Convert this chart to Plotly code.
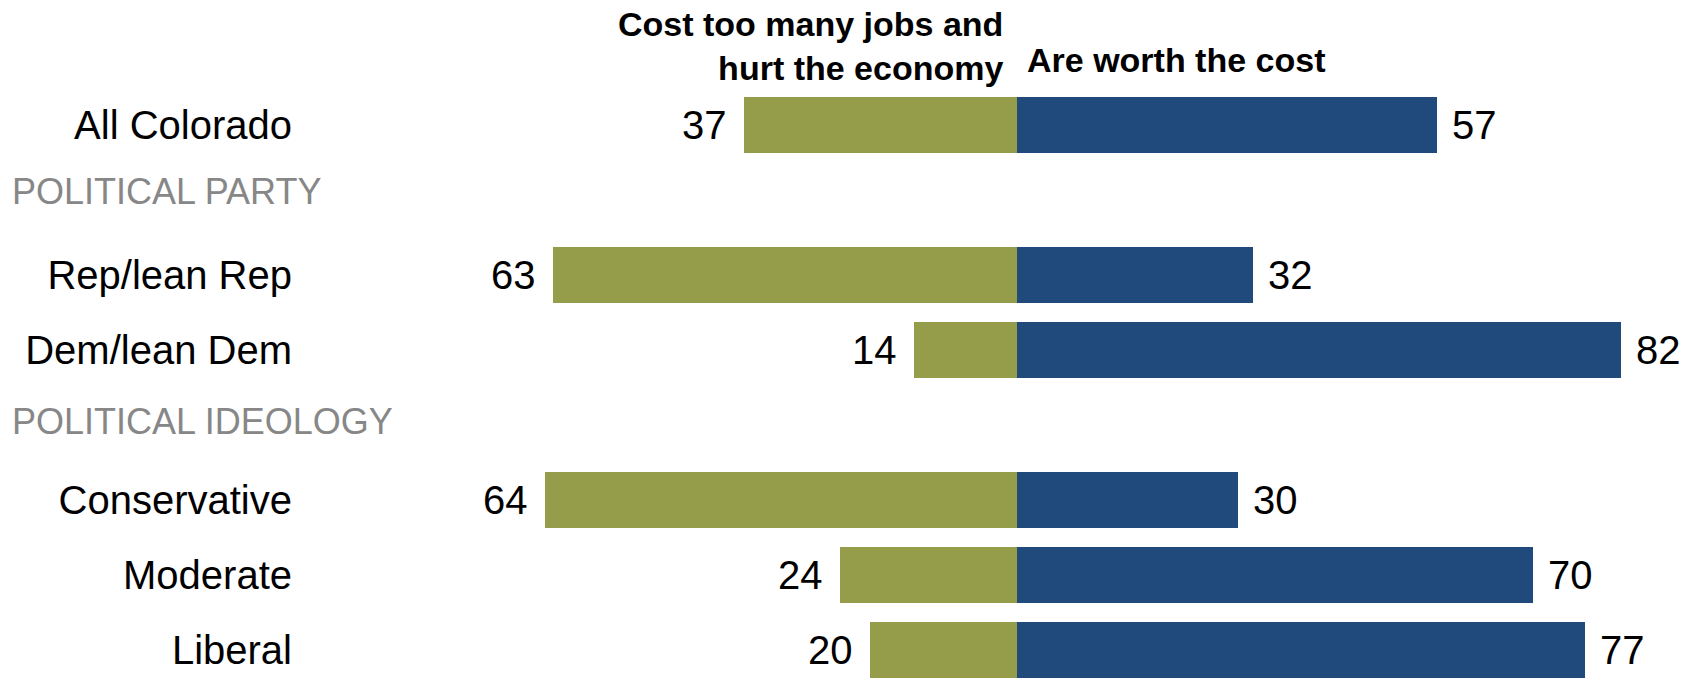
import plotly.graph_objects as go

# Survey results: share saying stricter environmental rules...
categories = ["All Colorado", "Rep/lean Rep", "Dem/lean Dem",
              "Conservative", "Moderate", "Liberal"]
cost_jobs = [37, 63, 14, 64, 24, 20]      # "Cost too many jobs and hurt the economy"
worth_cost = [57, 32, 82, 30, 70, 77]     # "Are worth the cost"
section_labels = ["POLITICAL PARTY", "POLITICAL IDEOLOGY"]

GREEN = "#959d4b"
BLUE = "#214a7c"
FONT = "Liberation Sans, Arial, sans-serif"

# Row layout: header rows sit between groups
rows = [0, 2, 3, 5, 6, 7]
section_rows = [0.88, 3.96]

fig = go.Figure()
fig.add_trace(go.Bar(
    y=rows, x=[-v for v in cost_jobs], orientation="h",
    marker=dict(color=GREEN, line=dict(width=0)), width=0.75,
    hoverinfo="skip", showlegend=False,
))
fig.add_trace(go.Bar(
    y=rows, x=worth_cost, orientation="h",
    marker=dict(color=BLUE, line=dict(width=0)), width=0.75,
    hoverinfo="skip", showlegend=False,
))

annotations = []
# value labels beside each bar end
for r, g, b in zip(rows, cost_jobs, worth_cost):
    annotations.append(dict(
        x=-g, y=r, xref="x", yref="y", text=str(g), showarrow=False,
        xanchor="right", yanchor="middle", xshift=-15,
        font=dict(family=FONT, size=40, color="#000000"),
    ))
    annotations.append(dict(
        x=b, y=r, xref="x", yref="y", text=str(b), showarrow=False,
        xanchor="left", yanchor="middle", xshift=13,
        font=dict(family=FONT, size=40, color="#000000"),
    ))

# group headers
for label, r in zip(section_labels, section_rows):
    annotations.append(dict(
        x=-0.2071, y=r, xref="paper", yref="y", text=label, showarrow=False,
        xanchor="left", yanchor="middle",
        font=dict(family=FONT, size=36, color="#878787"),
    ))

# column headers
annotations.append(dict(
    x=0, y=-1.06, xref="x", yref="y",
    text="Cost too many jobs and<br>hurt the economy", showarrow=False,
    xanchor="right", yanchor="middle", align="right", xshift=-12,
    font=dict(family=FONT, size=34, color="#000000", weight="bold"),
))
annotations.append(dict(
    x=0, y=-0.87, xref="x", yref="y",
    text="Are worth the cost", showarrow=False,
    xanchor="left", yanchor="middle", xshift=8,
    font=dict(family=FONT, size=34, color="#000000", weight="bold"),
))

fig.update_layout(
    width=1700, height=679,
    margin=dict(l=300, r=0, t=0, b=0),
    paper_bgcolor="white", plot_bgcolor="white",
    barmode="relative", bargap=0,
    annotations=annotations,
    xaxis=dict(range=[-97.26, 92.65], visible=False, fixedrange=True),
    yaxis=dict(
        range=[7.387, -1.667], tickmode="array", tickvals=rows,
        ticktext=categories, ticks="", showgrid=False, zeroline=False,
        showline=False, ticklabelstandoff=7,
        tickfont=dict(family=FONT, size=40, color="#000000"),
        fixedrange=True,
    ),
)

fig.write_html("out.html")
